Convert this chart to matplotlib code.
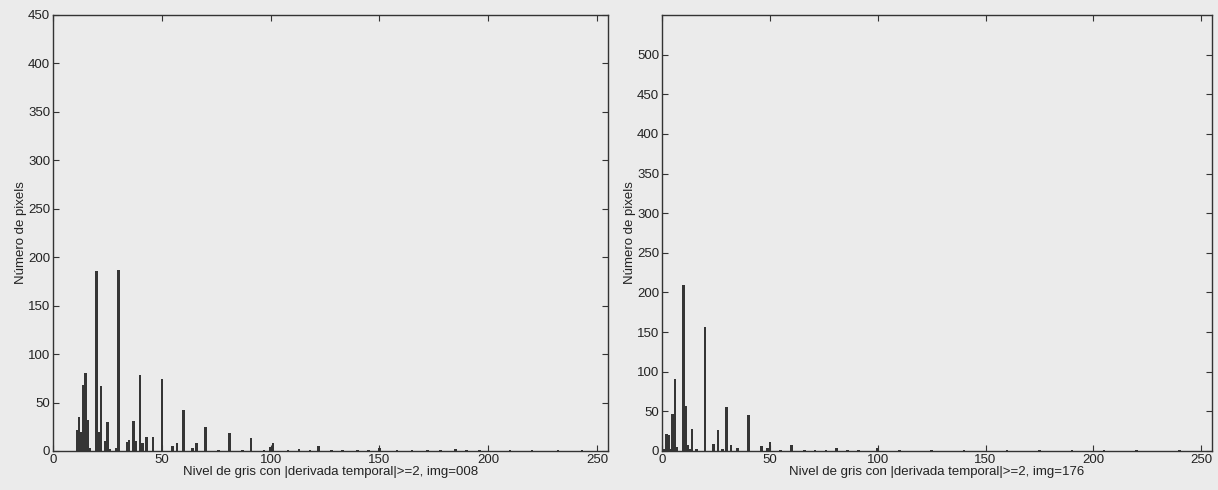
import numpy as np
import matplotlib
matplotlib.use('Agg')
from matplotlib import pyplot as plt

# histograma img=008
left_levels = [11, 12, 13, 14, 15, 16, 17, 20, 21, 22, 24, 25, 26, 29, 30,
               34, 35, 37, 38, 40, 41, 43, 46, 50, 55, 57, 60, 64, 66, 70,
               76, 81, 87, 91, 97, 100, 101, 108, 113, 118, 122, 128, 133,
               140, 145, 150, 158, 165, 172, 178, 185, 190, 196, 210, 220,
               232, 243]
left_counts = [22, 35, 20, 68, 80, 32, 3, 186, 20, 67, 10, 30, 2, 3, 187,
               9, 11, 31, 10, 78, 8, 14, 14, 74, 5, 8, 42, 3, 8, 25,
               1, 19, 1, 13, 1, 4, 8, 1, 2, 1, 5, 1, 1,
               1, 1, 3, 1, 1, 1, 1, 2, 1, 1, 1, 1,
               1, 1]

# histograma img=176
right_levels = [1, 2, 3, 4, 5, 6, 7, 10, 11, 12, 13, 14, 16, 20, 24, 26,
                28, 30, 32, 35, 40, 46, 49, 50, 55, 60, 66, 71, 76, 81,
                86, 91, 100, 110, 125, 140, 160, 175, 190, 205, 220, 240]
right_counts = [2, 22, 20, 3, 47, 91, 5, 210, 57, 8, 3, 28, 2, 157, 9, 26,
                2, 56, 8, 4, 45, 6, 4, 11, 1, 8, 1, 1, 1, 4,
                1, 1, 4, 1, 1, 1, 1, 1, 1, 1, 1, 1]

xlabels = ['Nivel de gris con |derivada temporal|>=2, img=008',
           'Nivel de gris con |derivada temporal|>=2, img=176']
ylabel = 'Número de pixels'

BG = '#ebebeb'
BAR = '#353535'

plt.rcParams['font.family'] = ['Liberation Sans', 'DejaVu Sans']
plt.rcParams['font.size'] = 9.5

fig = plt.figure(figsize=(12.18, 4.9), dpi=100, facecolor=BG)
ax1 = fig.add_axes([0.0435, 0.0796, 0.4557, 0.8898])
ax2 = fig.add_axes([0.5435, 0.0796, 0.4516, 0.8898])


def histo(ax, levels, counts, ymax, yticks, xlabel):
    ax.set_facecolor(BG)
    ax.bar(levels, counts, width=1.2, color=BAR, edgecolor='none')
    ax.set_xlim(0, 255)
    ax.set_ylim(0, ymax)
    ax.set_xticks(np.arange(0, 251, 50))
    ax.set_yticks(yticks)
    ax.tick_params(direction='in', top=True, right=True, length=4,
                   width=0.8, color='#333333', labelcolor='#222222', pad=2)
    for s in ax.spines.values():
        s.set_color('#333333')
        s.set_linewidth(1.0)
    ax.set_xlabel(xlabel, labelpad=0, color='#222222')
    ax.set_ylabel(ylabel, labelpad=1, color='#222222')


histo(ax1, left_levels, left_counts, 450, np.arange(0, 451, 50), xlabels[0])
histo(ax2, right_levels, right_counts, 550, np.arange(0, 501, 50), xlabels[1])

fig.savefig('out.png', dpi=100, facecolor=BG)
